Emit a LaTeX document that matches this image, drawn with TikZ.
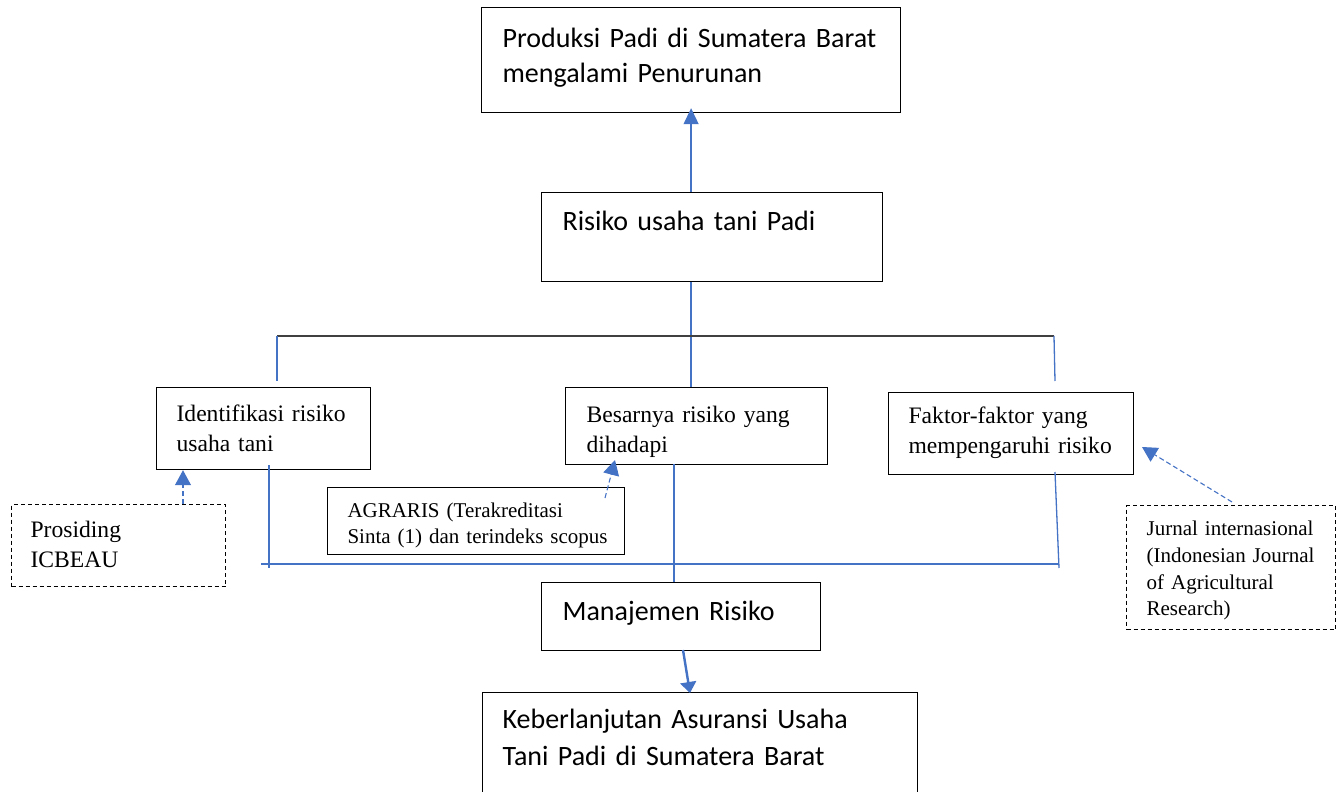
\documentclass[tikz,border=0pt]{standalone}
\usepackage{fontspec}
\setmainfont{Liberation Serif}
\newfontfamily\calibrifont{Carlito}
\usetikzlibrary{arrows.meta,calc}
\definecolor{wblue}{HTML}{4472C4}
\definecolor{wdark}{HTML}{404040}
\begin{document}
\begin{tikzpicture}[x=1pt,y=-1pt,
  boxbase/.style={draw=black,line width=1.2pt,rectangle,anchor=north west,inner ysep=0pt,align=left},
  bigbox/.style={boxbase,font=\calibrifont\fontsize{28}{35}\selectfont},
  smallbox/.style={boxbase,font=\fontsize{23.6}{29.5}\selectfont},
  tinybox/.style={boxbase,font=\fontsize{21}{25.5}\selectfont},
  dashbox/.style={dash pattern=on 4pt off 3pt},
  bline/.style={draw=wblue,line width=1.3pt},
  darrow/.style={draw=wblue,line width=1.1pt,dash pattern=on 5pt off 3pt,-{Triangle[width=16pt,length=15pt]}},
]
\useasboundingbox (0,0) rectangle (1342,792);
\clip (0,0) rectangle (1342,792);
% boxes
\node[bigbox,inner xsep=21pt,text width=377pt,text height=40pt,text depth=65pt] (top) at (481,7)
  {\mbox{Produksi Padi di Sumatera Barat}\\\mbox{mengalami Penurunan}};
\node[bigbox,inner xsep=21pt,text width=299pt,text height=38pt,text depth=51pt] (mid) at (541,192)
  {\mbox{Risiko usaha tani Padi}};
\node[smallbox,inner xsep=20pt,text width=174pt,text height=34pt,text depth=48pt] (ident) at (156,387)
  {\mbox{Identifikasi risiko}\\\mbox{usaha tani}};
\node[smallbox,inner xsep=21pt,text width=220pt,text height=35pt,text depth=42pt] (besar) at (565,387)
  {\mbox{Besarnya risiko yang}\\\mbox{dihadapi}};
\node[smallbox,inner xsep=20pt,text width=205pt,text height=31pt,text depth=51pt] (faktor) at (888,392)
  {\mbox{Faktor-faktor yang}\\\mbox{mempengaruhi risiko}};
\node[smallbox,dashbox,inner xsep=19pt,text width=176pt,text height=33pt,text depth=49pt] (pros) at (11,504)
  {\mbox{Prosiding}\\\mbox{ICBEAU}};
\node[tinybox,line width=1pt,inner xsep=20pt,text width=257pt,text height=30pt,text depth=37pt] (agr) at (327,487)
  {\mbox{AGRARIS (Terakreditasi}\\\mbox{Sinta (1) dan terindeks scopus}};
\node[tinybox,dashbox,inner xsep=20pt,text width=169pt,text height=30pt,text depth=94pt,font=\fontsize{21}{26.7}\selectfont] (jur) at (1126,505)
  {\mbox{Jurnal internasional}\\\mbox{(Indonesian Journal}\\\mbox{of Agricultural}\\\mbox{Research)}};
\node[bigbox,inner xsep=21pt,text width=237pt,text height=38pt,text depth=30pt] (man) at (541,582)
  {\mbox{Manajemen Risiko}};
\node[bigbox,inner xsep=20pt,text width=395pt,text height=36pt,text depth=90pt,font=\calibrifont\fontsize{28}{37}\selectfont] (keb) at (482,692)
  {\mbox{Keberlanjutan Asuransi Usaha}\\\mbox{Tani Padi di Sumatera Barat}};
% coordinates
\coordinate (jl) at (277,336);
\coordinate (jr) at (1054,336);
\coordinate (jlb) at (277,381);
\coordinate (jrb) at (1055,381);
\coordinate (il) at (261,564);
\coordinate (ir) at (1059,564);
\coordinate (iv) at (269,568);
\coordinate (fv) at (1059,568);
\coordinate (ib) at (269,465);
\coordinate (fb) at (1055,472);
\coordinate (bb) at (674,464);
\coordinate (agrs) at (605,498);
\coordinate (agrt) at (615,460);
\coordinate (jurs) at (1232,502);
\coordinate (jurt) at (1142,447);
\coordinate (mans) at (683,650);
\coordinate (mant) at (690,693);
% connectors
\draw[bline,-{Triangle[width=15pt,length=16pt]}] (top.south |- mid.north) -- ([yshift=5pt]top.south);
\draw[bline] (top.south |- mid.south) -- (top.south |- besar.north);
\draw[draw=wdark,line width=1.3pt] (jl) -- (jr);
\draw[bline] (jl) -- (jlb);
\draw[bline] (jr) -- (jrb);
\draw[bline] (ib) -- (iv);
\draw[bline] (il) -- (ir);
\draw[bline] (fb) -- (fv);
\draw[bline] (bb) -- (bb |- man.north);
\draw[darrow] (pros.north -| 183,0) -- (ident.south -| 183,0);
\draw[darrow] (agrs) -- (agrt);
\draw[darrow] (jurs) -- (jurt);
\draw[draw=wblue,line width=2.4pt,-{Triangle[width=16pt,length=11pt]}] (mans) -- (mant);
\end{tikzpicture}
\end{document}
